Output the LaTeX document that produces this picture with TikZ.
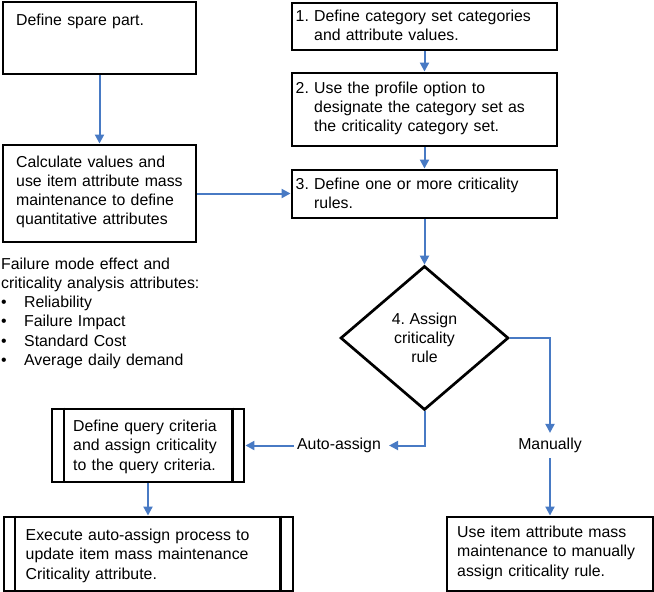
\documentclass[tikz,border=0pt]{standalone}
\usepackage{fontspec}
\setmainfont{Liberation Sans}
\usetikzlibrary{arrows.meta,shapes.geometric}
\definecolor{flow}{RGB}{72,122,196}
\begin{document}
\begin{tikzpicture}[x=1pt,y=-1pt,
  font=\fontsize{15.85}{19.3}\selectfont\frenchspacing,
  box/.style={draw=black, line width=2.9pt, rectangle, inner sep=0pt},
  txt/.style={anchor=base west, inner sep=0pt, text width=260pt, align=left},
  arr/.style={draw=flow, line width=2pt, -{Triangle[length=9pt,width=9pt]}},
  lbl/.style={inner xsep=3pt, inner ysep=5pt},
  side/.style={line width=2.9pt}]
\useasboundingbox (0,0) rectangle (654,592);

% boxes
\node[box, minimum width=193pt, minimum height=72pt] (A) at (99.5,38) {};
\node[box, minimum width=193pt, minimum height=97pt] (B) at (99.5,193.5) {};
\node[box, minimum width=265pt, minimum height=47pt] (S1) at (424.5,26.5) {};
\node[box, minimum width=265pt, minimum height=73pt] (S2) at (424.5,109.5) {};
\node[box, minimum width=265pt, minimum height=48pt] (S3) at (424.5,194) {};
\node[draw=black, diamond, line width=2.7pt, minimum width=168pt, minimum height=144pt,
      inner sep=0pt, align=center] (D) at (424.5,338) {4. Assign\\criticality\\rule};
\node[box, minimum width=192pt, minimum height=73pt] (Q) at (148,445.5) {};
\node[box, minimum width=289pt, minimum height=74pt] (E) at (148.5,554) {};
\node[box, minimum width=206pt, minimum height=74pt] (U) at (550,554) {};

% predefined-process side bars
\draw[side] ([xshift=13.4pt]Q.north west) -- ([xshift=13.4pt]Q.south west);
\draw[side] ([xshift=-13.4pt]Q.north east) -- ([xshift=-13.4pt]Q.south east);
\draw[side] ([xshift=12.4pt]E.north west) -- ([xshift=12.4pt]E.south west);
\draw[side] ([xshift=-14.4pt]E.north east) -- ([xshift=-14.4pt]E.south east);

% texts
\node[txt] (At) at (16,25) {Define spare part.};
\node[txt] (Bt) at (16,167) {Calculate values and\\use item attribute mass\\maintenance to define\\quantitative attributes};
\node[txt] (S1t) at (295.5,21.5) {1. Define category set categories\\\hphantom{1. }and attribute values.};
\node[txt] (S2t) at (295.5,93) {2. Use the profile option to\\\hphantom{2. }designate the category set as\\\hphantom{2. }the criticality category set.};
\node[txt] (S3t) at (295.5,189) {3. Define one or more criticality\\\hphantom{3. }rules.};
\node[txt] (F) at (1,269) {Failure mode effect and\\criticality analysis attributes:\\%
\makebox[23pt][l]{\textbullet}Reliability\\%
\makebox[23pt][l]{\textbullet}Failure Impact\\%
\makebox[23pt][l]{\textbullet}Standard Cost\\%
\makebox[23pt][l]{\textbullet}Average daily demand};
\node[txt] (Qt) at (73,431.5) {Define query criteria\\and assign criticality\\to the query criteria.};
\node[txt] (Et) at (25.5,540.5) {Execute auto-assign process to\\update item mass maintenance\\Criticality attribute.};
\node[txt] (Ut) at (457,537.5) {Use item attribute mass\\maintenance to manually\\assign criticality rule.};

% branch labels
\node[lbl] (auto) at (339,445.5) {Auto-assign};
\node[lbl] (man) at (550,445.5) {Manually};

% connectors
\draw[arr] (A) -- (B);
\draw[arr] (B.east) -- (B.east -| S3.west);
\draw[arr] (S1) -- (S2);
\draw[arr] (S2) -- (S3);
\draw[arr] (S3) -- (D);
\draw[arr] (D.south) |- ([xshift=5pt]auto.east);
\draw[arr] (auto.west) -- (Q.east);
\draw[arr] (D.east) -| (man.north);
\draw[arr] (man.south) -- (U.north);
\draw[arr] (Q) -- (E.north -| Q.south);
\end{tikzpicture}
\end{document}
